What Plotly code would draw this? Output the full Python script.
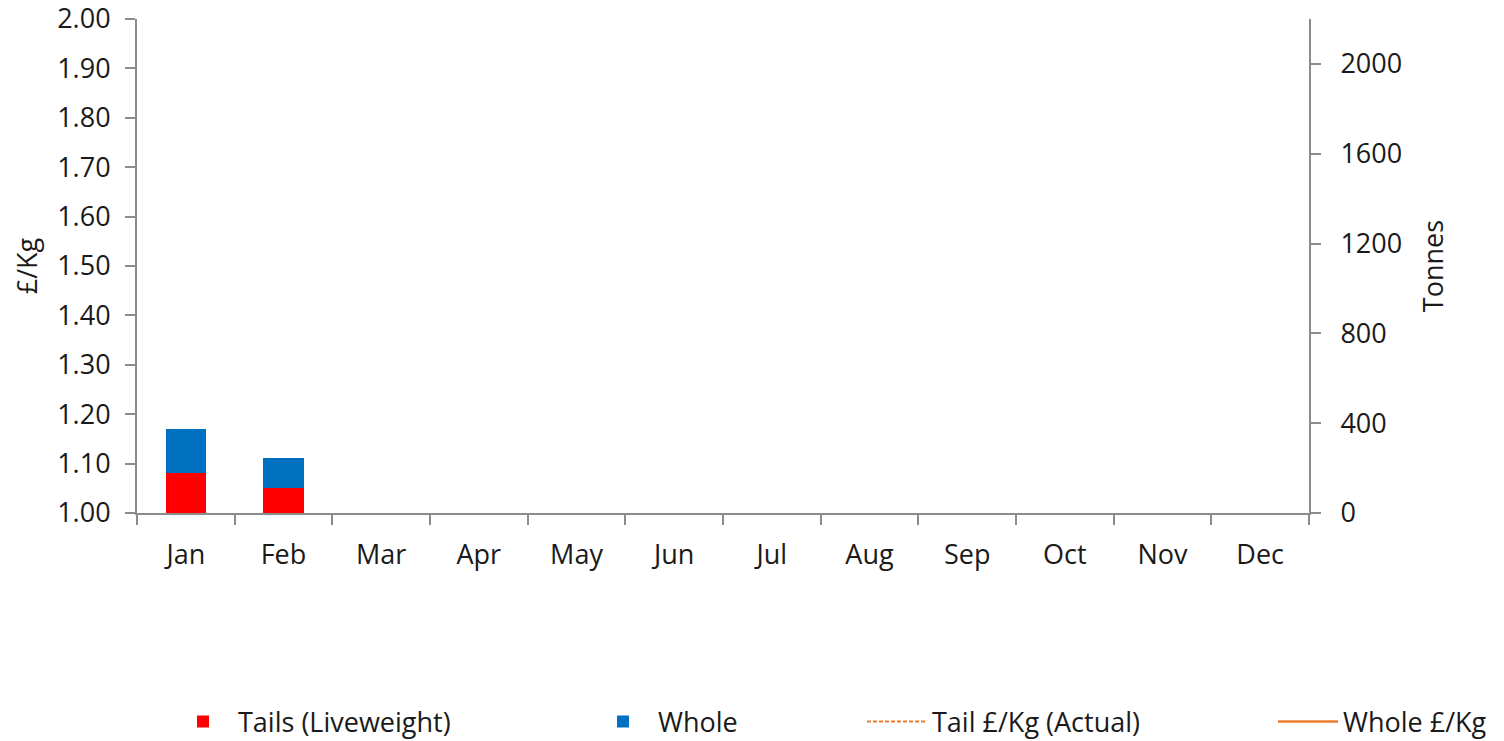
import plotly.graph_objects as go

months = ["Jan", "Feb", "Mar", "Apr", "May", "Jun", "Jul", "Aug", "Sep", "Oct", "Nov", "Dec"]
tails_tonnes = [178, 111, None, None, None, None, None, None, None, None, None, None]
whole_tonnes = [196, 134, None, None, None, None, None, None, None, None, None, None]
tail_price = [None] * 12
whole_price = [None] * 12
price_ticks = [1.0, 1.1, 1.2, 1.3, 1.4, 1.5, 1.6, 1.7, 1.8, 1.9, 2.0]
tonne_ticks = [0, 400, 800, 1200, 1600, 2000]

FONT = "Open Sans"
AXIS = "#8c8c8c"
TXT = "#1a1a1a"
# page body adds an 8px offset, so the figure is 8px smaller than the window
W, H = 1496, 733
L, R, T, B = 129, 195, 11, 228
PW, PH = W - L - R, H - T - B
FS = 27

fig = go.Figure()
fig.add_trace(go.Bar(x=months, y=tails_tonnes, name="Tails (Liveweight)", marker_color="#FF0000",
                     marker_line_width=0, yaxis="y2", legend="legend"))
fig.add_trace(go.Bar(x=months, y=whole_tonnes, name="Whole", marker_color="#0070C0",
                     marker_line_width=0, yaxis="y2", legend="legend2"))
fig.add_trace(go.Scatter(x=months, y=tail_price, name="Tail £/Kg (Actual)", mode="lines",
                         line=dict(color="#ED7D31", width=2, dash="4px,2px"), legend="legend3"))
fig.add_trace(go.Scatter(x=months, y=whole_price, name="Whole £/Kg", mode="lines",
                         line=dict(color="#ED7D31", width=2.5), legend="legend4"))

def leg(xfig):
    return dict(x=(xfig - L) / PW, xref="paper", y=(H - B - 714) / PH, yref="paper", yanchor="middle",
                xanchor="left", orientation="h", font=dict(family=FONT, size=FS, color=TXT),
                bgcolor="rgba(0,0,0,0)", itemwidth=60)

fig.update_layout(
    width=W, height=H,
    margin=dict(l=L, r=R, t=T, b=B, autoexpand=False),
    paper_bgcolor="white", plot_bgcolor="white",
    barmode="stack", bargap=0.59,
    font=dict(family=FONT, size=FS, color=TXT),
    showlegend=True,
    legend=leg(160), legend2=leg(580), legend3=leg(854), legend4=leg(1265),
    xaxis=dict(type="category", showline=True, linecolor=AXIS, linewidth=2,
               ticks="outside", tickson="boundaries", ticklen=10, tickcolor=AXIS, tickwidth=2,
               showgrid=False, tickfont=dict(size=FS), ticklabelstandoff=17),
    yaxis=dict(title=dict(text="£/Kg", standoff=32, font=dict(size=FS)), range=[1, 2],
               tickvals=price_ticks, tickformat=".2f", showline=True, linecolor=AXIS, linewidth=2,
               ticks="outside", ticklen=10, tickcolor=AXIS, tickwidth=2, showgrid=False,
               zeroline=False, tickfont=dict(size=FS), ticklabelstandoff=9,
               ticklabeloverflow="allow", automargin=False),
    yaxis2=dict(title=dict(text="Tonnes", standoff=23, font=dict(size=FS)), overlaying="y", side="right",
                range=[0, 2200], tickvals=tonne_ticks, showline=True,
                linecolor=AXIS, linewidth=2, ticks="outside", ticklen=10, tickcolor=AXIS,
                tickwidth=2, showgrid=False, zeroline=False, tickfont=dict(size=FS),
                ticklabelstandoff=14, ticklabeloverflow="allow", automargin=False),
)

fig.write_html("out.html")
